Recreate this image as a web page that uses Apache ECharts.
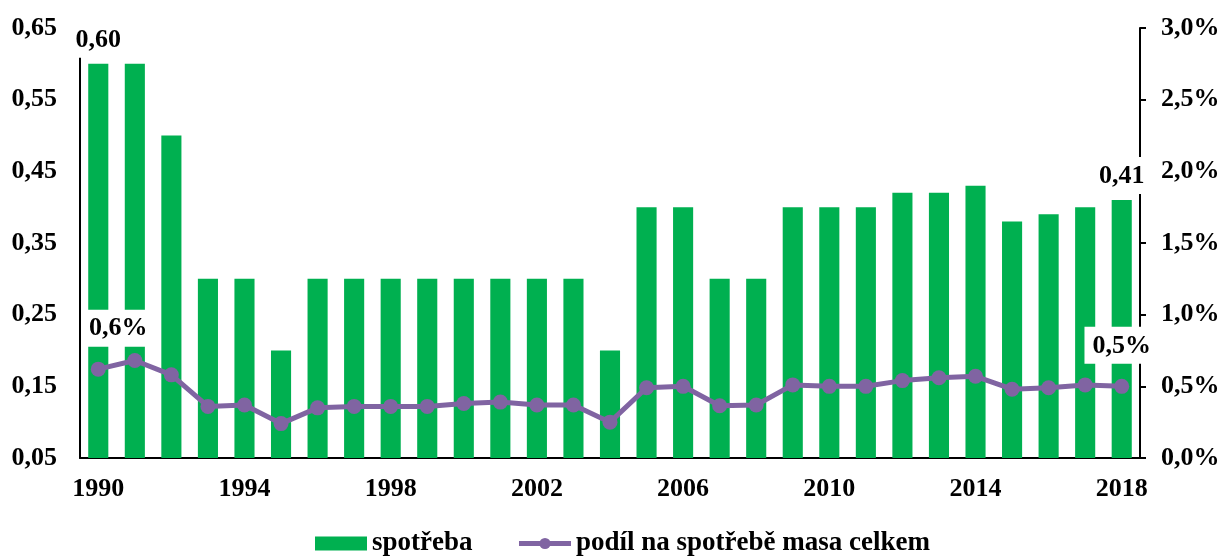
<!DOCTYPE html>
<html>
<head>
<meta charset="utf-8">
<script src="https://cdn.jsdelivr.net/npm/echarts@6/dist/echarts.min.js"></script>
<style>
html,body{margin:0;padding:0;background:#fff;}
#chart{width:1225px;height:556px;}
</style>
</head>
<body>
<div id="chart"></div>
<script>
const years = ['1990','1991','1992','1993','1994','1995','1996','1997','1998','1999','2000','2001','2002','2003','2004','2005','2006','2007','2008','2009','2010','2011','2012','2013','2014','2015','2016','2017','2018'];
const spotreba = [0.60,0.60,0.50,0.30,0.30,0.20,0.30,0.30,0.30,0.30,0.30,0.30,0.30,0.30,0.20,0.40,0.40,0.30,0.30,0.40,0.40,0.40,0.42,0.42,0.43,0.38,0.39,0.40,0.41];
const podil = [0.62,0.68,0.58,0.36,0.37,0.24,0.35,0.36,0.36,0.36,0.38,0.39,0.37,0.37,0.25,0.49,0.50,0.365,0.37,0.51,0.50,0.50,0.54,0.56,0.57,0.48,0.49,0.51,0.50];
const seriesNames = ['spotřeba','podíl na spotřebě masa celkem'];
const leftTicks = {min:0.05, max:0.65, interval:0.1};
const rightTicks = {min:0, max:3, interval:0.5};

const FONT = '"Liberation Serif", "Times New Roman", serif';
const GREEN = '#00B050';
const PURPLE = '#8064A2';
const labelBox = {
  show: true,
  fontFamily: FONT,
  fontWeight: 'bold',
  fontSize: 26,
  color: '#000',
  backgroundColor: '#fff',
  padding: [6, 8, 5, 8]
};
const lastIdx = years.length - 1;
const barData = spotreba.map((v, i) => (i === 0 || i === lastIdx) ?
  {value: v, label: Object.assign({}, labelBox, {position: 'top', distance: 6})} : v);
const lineData = podil.map((v, i) => (i === 0 || i === lastIdx) ?
  {value: v, label: Object.assign({}, labelBox, {position: 'top', distance: 15, offset: i === 0 ? [20, 0] : [0, 0]})} : v);

const axisFont = {fontFamily: FONT, fontWeight: 'bold', fontSize: 26, color: '#000'};

const chart = echarts.init(document.getElementById('chart'));
chart.setOption({
  animation: false,
  backgroundColor: '#fff',
  textStyle: {fontFamily: FONT},
  grid: {left: 80, right: 85, top: 28, bottom: 98, containLabel: false},
  legend: {
    top: 530,
    left: 315,
    itemWidth: 52,
    itemHeight: 14,
    itemGap: 44,
    padding: 0,
    textStyle: {fontFamily: FONT, fontWeight: 'bold', fontSize: 27, color: '#000'},
    data: [
      {name: seriesNames[0], icon: 'rect', itemStyle: {color: GREEN}},
      {name: seriesNames[1], itemStyle: {color: PURPLE}, lineStyle: {color: PURPLE, width: 5}}
    ]
  },
  xAxis: {
    type: 'category',
    data: years,
    boundaryGap: true,
    axisLine: {lineStyle: {color: '#000', width: 2}},
    axisTick: {show: false},
    axisLabel: Object.assign({interval: 3, margin: 18}, axisFont)
  },
  yAxis: [
    {
      type: 'value',
      min: leftTicks.min, max: leftTicks.max, interval: leftTicks.interval,
      axisLine: {show: true, lineStyle: {color: '#000', width: 2}},
      axisTick: {show: false},
      splitLine: {show: false},
      axisLabel: Object.assign({margin: 23, formatter: v => v.toFixed(2).replace('.', ',')}, axisFont)
    },
    {
      type: 'value',
      position: 'right',
      min: rightTicks.min, max: rightTicks.max, interval: rightTicks.interval,
      axisLine: {show: true, lineStyle: {color: '#000', width: 2}},
      axisTick: {show: true, length: 6, lineStyle: {color: '#000', width: 2}},
      splitLine: {show: false},
      axisLabel: Object.assign({margin: 21, formatter: v => v.toFixed(1).replace('.', ',') + '%'}, axisFont)
    }
  ],
  series: [
    {
      name: seriesNames[0],
      type: 'bar',
      yAxisIndex: 0,
      barWidth: '55%',
      itemStyle: {color: GREEN},
      label: {formatter: p => p.value.toFixed(2).replace('.', ',')},
      data: barData
    },
    {
      name: seriesNames[1],
      type: 'line',
      yAxisIndex: 1,
      symbol: 'circle',
      symbolSize: 15,
      lineStyle: {color: PURPLE, width: 5},
      itemStyle: {color: PURPLE},
      label: {formatter: p => p.value.toFixed(1).replace('.', ',') + '%'},
      data: lineData
    }
  ]
});
</script>
</body>
</html>
